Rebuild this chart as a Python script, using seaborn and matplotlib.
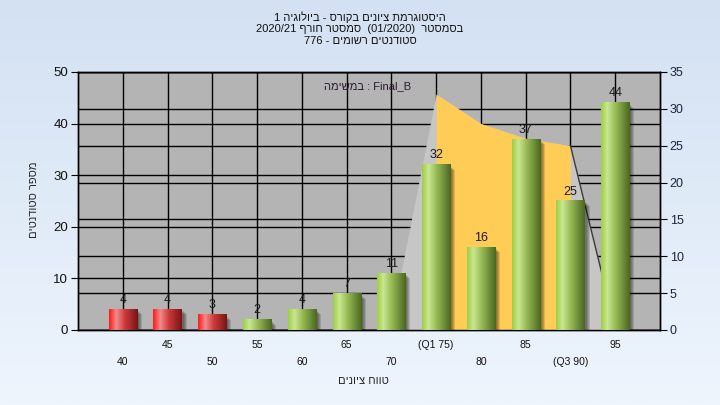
import re
import numpy as np
import pandas as pd
import matplotlib
matplotlib.use("Agg")
import matplotlib.pyplot as plt
import seaborn as sns
from matplotlib.colors import LinearSegmentedColormap
from matplotlib.patches import Rectangle
from matplotlib.transforms import ScaledTranslation, blended_transform_factory

# ----------------------------
# Dados
# ----------------------------
scores = [40, 45, 50, 55, 60, 65, 70, 75, 80, 85, 90, 95]
tick_labels = ["40", "45", "50", "55", "60", "65", "70", "(Q1 75)", "80", "85", "(Q3 90)", "95"]
counts = [4, 4, 3, 2, 4, 7, 11, 32, 16, 37, 25, 44]
pass_score = 55

# serie de area (eixo direito)
area_scores = [70, 75, 80, 85, 90, 95]
area_values = [1.2, 32, 28, 26, 25, 0.3]
iqr_scores = [75, 80, 85, 90]

title_lines = [
    "היסטוגרמת ציונים בקורס - ביולוגיה 1",
    "בסמסטר  (01/2020)  סמסטר חורף 2020/21",
    "סטודנטים רשומים - 776",
]
y_label = "מספר סטודנטים"
x_label = "טווח ציונים"
task_word = "במשימה"
task_name = "Final_B"


def visual(s):
    # matplotlib nao faz bidi: inverte o texto e mantem os trechos LTR
    out = s[::-1]
    out = re.sub(r"[0-9A-Za-z_/.]+", lambda m: m.group(0)[::-1], out)
    mirror = {"(": ")", ")": "("}
    return "".join(mirror.get(c, c) for c in out)


sns.set_style("white")
plt.rcParams["font.family"] = ["Liberation Sans", "DejaVu Sans"]

fig = plt.figure(figsize=(7.2, 4.05), dpi=100)

# fundo em degrade
bg = fig.add_axes([0, 0, 1, 1], zorder=-10)
bg_cmap = LinearSegmentedColormap.from_list("bg", ["#d3e1f3", "#eef5fd"])
bg.imshow(np.linspace(0, 1, 256)[:, None], cmap=bg_cmap, aspect="auto", extent=[0, 1, 0, 1])
bg.axis("off")

rect = [78 / 720, 1 - 330 / 405, 582 / 720, 258 / 405]
ax = fig.add_axes(rect)
ax2 = ax.twinx()
ax.set_zorder(ax2.get_zorder() + 1)
ax.patch.set_visible(False)
ax2.patch.set_visible(True)
ax2.patch.set_facecolor("#b4b4b4")

# ----------------------------
# Barras (seaborn)
# ----------------------------
df = pd.DataFrame({"score": [str(s) for s in scores], "count": counts})
base_colors = ["#e02020" if s < pass_score else "#8fbf40" for s in scores]
sns.barplot(data=df, x="score", y="count", hue="score", palette=base_colors,
            legend=False, width=0.63, saturation=1, ax=ax, zorder=3)
bars = list(ax.patches)

x_idx = {s: i for i, s in enumerate(scores)}
ax.set_xlim(-1, len(scores))
ax.set_ylim(0, 50)
ax2.set_ylim(0, 35)

# grades
ax.set_yticks(range(0, 51, 10))
ax2.set_yticks(range(0, 36, 5))
ax.set_xticks(range(len(scores)))
ax.grid(True, axis="both", color="black", lw=1)
ax2.grid(True, axis="y", color="black", lw=1)
ax.set_axisbelow(True)

# area (desenhada com a escala do eixo direito)
ax_x = [x_idx[s] for s in area_scores]
ax.fill_between(ax_x, 0, area_values, color="#c6c6c6", lw=0, zorder=1.5,
                transform=ax2.transData)
iqr_x = [x_idx[s] for s in iqr_scores]
iqr_y = [area_values[area_scores.index(s)] for s in iqr_scores]
ax.fill_between(iqr_x, 0, iqr_y, color="#ffcc55", lw=0, zorder=1.6,
                transform=ax2.transData)
ax.plot(ax_x[-2:], area_values[-2:], color="#3a3a3a", lw=1, zorder=1.7,
        transform=ax2.transData)

# degrade cilindrico + sombra
green = LinearSegmentedColormap.from_list(
    "g", [(0, "#9fcd45"), (0.22, "#cae792"), (0.5, "#98bb55"), (1, "#4b6820")])
red = LinearSegmentedColormap.from_list(
    "r", [(0, "#ff1c1c"), (0.25, "#f28a8a"), (0.55, "#cc3a3a"), (1, "#781515")])
grad = np.linspace(0, 1, 64)[None, :]
for s, p in zip(scores, bars):
    x0, w, h = p.get_x(), p.get_width(), p.get_height()
    for k in range(4):
        tr = ax.transData + ScaledTranslation((2 + k) / 100, -(2 + k) / 100, fig.dpi_scale_trans)
        ax.add_patch(Rectangle((x0, 0), w, h, transform=tr, color="black",
                               alpha=0.13, lw=0, zorder=2.5))
    cmap = red if s < pass_score else green
    ax.imshow(grad, cmap=cmap, aspect="auto", extent=[x0, x0 + w, 0, h], zorder=3.5)
    p.set_visible(False)
    ax.annotate(str(int(h)), (x0 + w / 2, h), xytext=(0, 2.5), textcoords="offset points",
                ha="center", va="bottom", fontsize=9, color="#1a1a1a", zorder=6)

ax.set_xlim(-1, len(scores))
ax.set_ylim(0, 50)

# eixos
ax.set_xlabel("")
ax.set_ylabel("")
ax.tick_params(axis="x", length=5, direction="out", color="black", labelbottom=False)
ax.tick_params(axis="y", length=5, direction="out", color="black", labelsize=9.5,
               labelcolor="#111111", pad=2)
ax.tick_params(axis="y", which="both", right=False)
ax2.tick_params(axis="y", length=5, direction="out", color="black", labelsize=9,
                labelcolor="#1c2440", pad=2)
for a in (ax, ax2):
    for sp in a.spines.values():
        sp.set_color("black")
        sp.set_linewidth(1)

# rotulos do eixo x em duas linhas
trans = blended_transform_factory(ax.transData, ax.transAxes)
for i, lab in enumerate(tick_labels):
    y = -0.058 if i % 2 else -0.124
    ax.text(i, y, lab, transform=trans, ha="center", va="center", fontsize=7.5,
            color="#111111")

ax.text(0.49, -0.198, visual(x_label), transform=ax.transAxes, ha="center",
        va="center", fontsize=8)
fig.text(34 / 720, 1 - 200 / 405, visual(y_label), rotation=90, ha="center",
         va="center", fontsize=8)

ax.text(0.498, 0.946, visual(task_word) + " : " + task_name, transform=ax.transAxes,
        ha="center", va="center", fontsize=8, color="#2a1a2a", zorder=7)

for line, yy in zip(title_lines, [17, 28.5, 40.5]):
    fig.text(0.5, 1 - yy / 405, visual(line), ha="center", va="center", fontsize=8,
             color="#111111")

fig.savefig("out.png", dpi=100)
